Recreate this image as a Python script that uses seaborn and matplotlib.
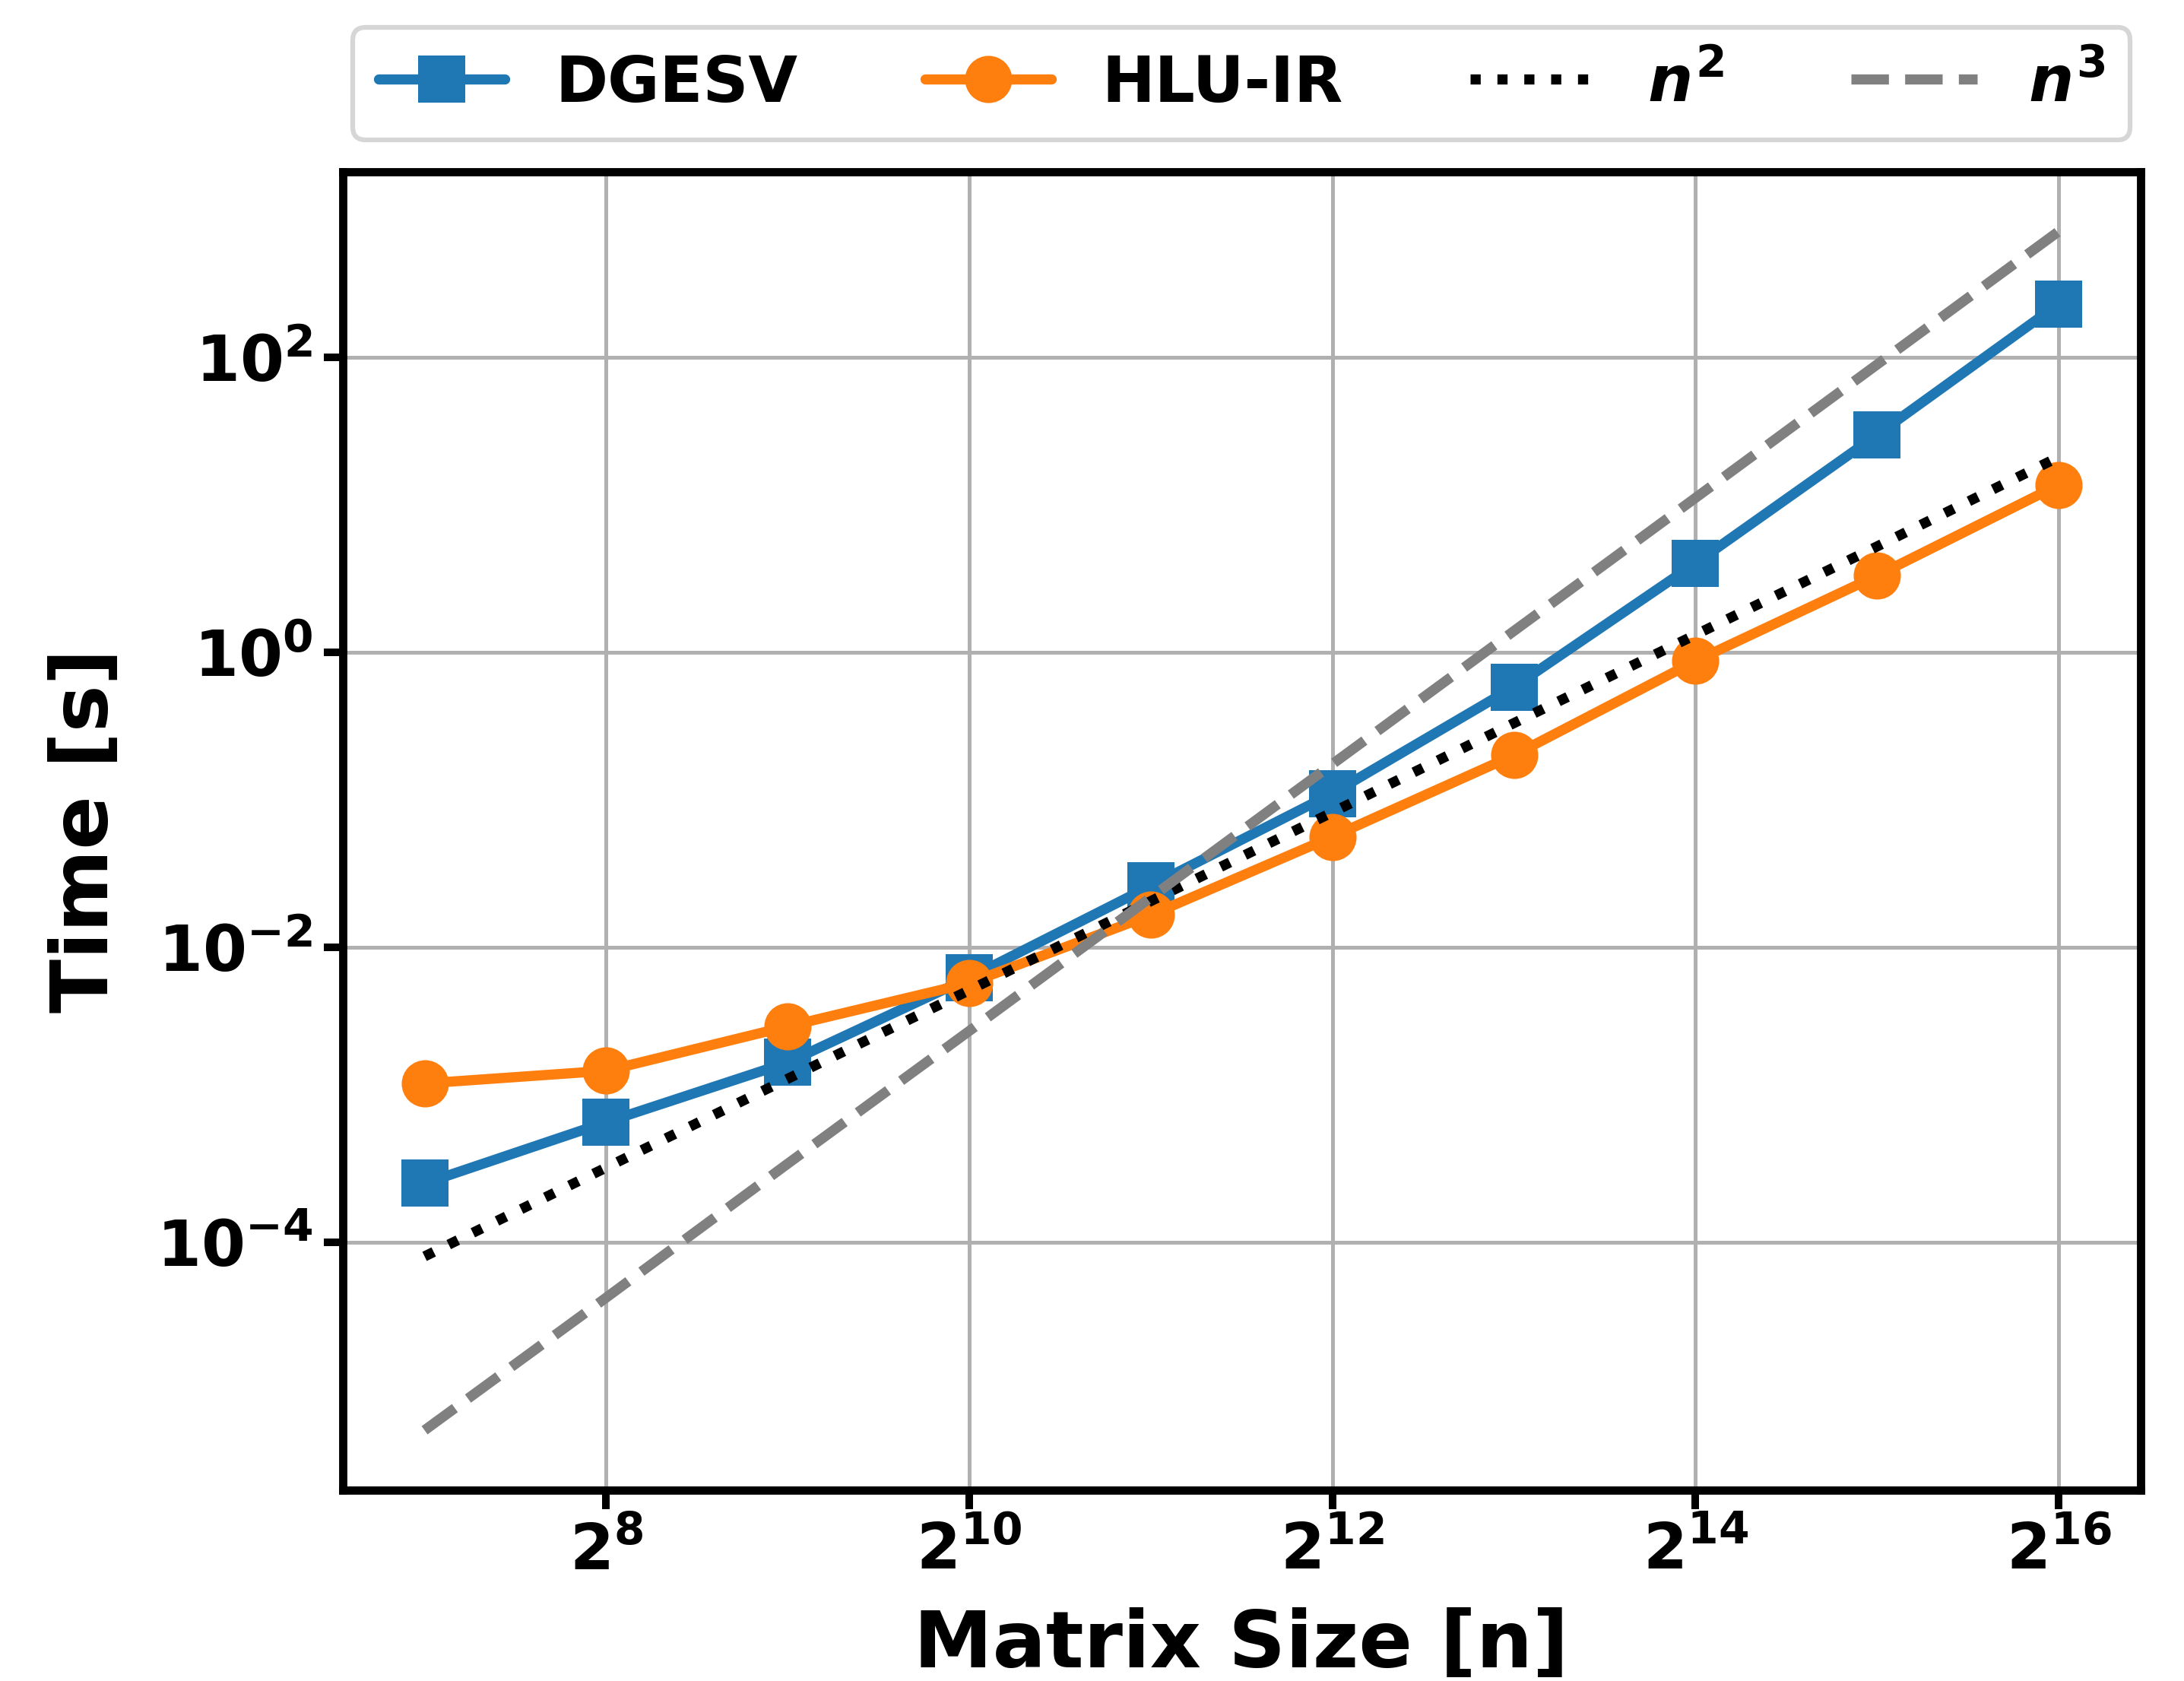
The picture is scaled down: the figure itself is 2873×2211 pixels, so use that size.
import numpy as np
import pandas as pd
import matplotlib
matplotlib.use("Agg")
import matplotlib.pyplot as plt
import seaborn as sns

# matrix sizes (powers of two) and measured runtimes [s]
sizes = [2**7, 2**8, 2**9, 2**10, 2**11, 2**12, 2**13, 2**14, 2**15, 2**16]
dgesv = [2.5e-4, 6.5e-4, 1.65e-3, 6.2e-3, 2.6e-2, 0.11, 0.58, 4.0, 29.7, 229.0]
hlu_ir = [1.19e-3, 1.45e-3, 2.9e-3, 5.7e-3, 1.65e-2, 5.6e-2, 0.2, 0.87, 3.3, 13.6]

# reference slopes
ref_n2 = [8.0e-5, 3.2e-4, 1.28e-3, 5.1e-3, 2.05e-2, 8.2e-2, 0.33, 1.31, 5.2, 21.0]
ref_n3 = [5.3e-6, 4.2e-5, 3.4e-4, 2.7e-3, 2.17e-2, 0.174, 1.39, 11.1, 89.0, 711.0]

xticks = [2**8, 2**10, 2**12, 2**14, 2**16]
yticks = [1e-4, 1e-2, 1e0, 1e2]

sns.set_style("white")
plt.rcParams.update({
    "font.family": ["DejaVu Sans"],
    "font.weight": "bold",
    "axes.labelweight": "bold",
    "text.color": "black",
    "axes.labelcolor": "black",
    "xtick.color": "black",
    "ytick.color": "black",
    "mathtext.fontset": "custom",
    "mathtext.rm": "DejaVu Sans:bold",
    "mathtext.it": "DejaVu Sans:italic:bold",
    "mathtext.bf": "DejaVu Sans:bold",
})

fig = plt.figure(figsize=(2873 / 300, 2211 / 300), dpi=300)
ax = fig.add_axes([0.157, 0.1135, 0.823, 0.7845])
ax.set_xscale("log", base=2)
ax.set_yscale("log")

lw = 3.2
ms = 14.9
sns.lineplot(x=sizes, y=dgesv, ax=ax, color="#1f77b4", marker="s", markersize=ms,
             markeredgewidth=0, linewidth=lw, label="DGESV")
sns.lineplot(x=sizes, y=hlu_ir, ax=ax, color="#ff7f0e", marker="o", markersize=ms,
             markeredgewidth=0, linewidth=lw, label="HLU-IR")
sns.lineplot(x=sizes, y=ref_n2, ax=ax, color="black", linestyle=":", linewidth=lw,
             label="$n^2$")
sns.lineplot(x=sizes, y=ref_n3, ax=ax, color="#808080", linestyle="--", linewidth=lw,
             label="$n^3$")

ax.set_xticks(xticks)
ax.set_yticks(yticks)
ax.minorticks_off()
ax.grid(True, color="#b0b0b0", linewidth=1.2)
ax.set_axisbelow(True)

for s in ax.spines.values():
    s.set_linewidth(2.6)
    s.set_color("black")
ax.tick_params(axis="both", which="major", length=6, width=2.4, labelsize=20,
               color="black", labelcolor="black", direction="out",
               bottom=True, left=True)

ax.set_xlabel("Matrix Size [n]", fontsize=25, fontweight="bold", color="black",
              labelpad=8)
ax.set_ylabel("Time [s]", fontsize=25, fontweight="bold", color="black",
              labelpad=10)

leg = ax.legend(loc="lower center", bbox_to_anchor=(0.5, 1.0), ncol=4,
                fontsize=20, frameon=True, fancybox=True)
leg.get_frame().set_linewidth(1.5)
for t in leg.get_texts():
    t.set_color("black")

fig.savefig("out.png", dpi=300)
